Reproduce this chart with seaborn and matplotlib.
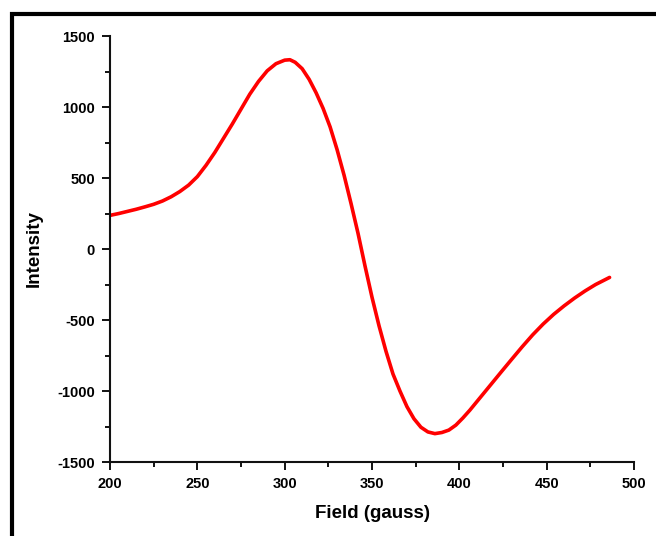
import matplotlib
matplotlib.use("Agg")
import matplotlib.pyplot as plt
from matplotlib.patches import Rectangle
from matplotlib.ticker import MultipleLocator
import seaborn as sns
import pandas as pd

# EPR derivative spectrum: magnetic field (gauss) vs. signal intensity
field = [200, 205, 210, 215, 220, 225, 230, 235, 240, 245, 250, 255, 260, 265,
         270, 275, 280, 285, 290, 295, 300, 303, 306, 310, 314, 318, 322, 326,
         330, 334, 338, 342, 346, 350, 354, 358, 362, 366, 370, 374, 378, 382,
         386, 390, 394, 398, 402, 406, 412, 418, 424, 430, 436, 442, 448, 454,
         460, 466, 472, 478, 486]
intensity = [237, 250, 265, 280, 297, 315, 338, 368, 405, 450, 510, 590, 680,
             780, 880, 985, 1090, 1180, 1255, 1305, 1330, 1333, 1315, 1270,
             1195, 1100, 990, 860, 700, 520, 320, 110, -120, -340, -540, -720,
             -880, -1000, -1110, -1195, -1255, -1288, -1300, -1292, -1275,
             -1240, -1190, -1135, -1045, -955, -865, -776, -688, -604, -528,
             -460, -400, -345, -295, -250, -200]

x_ticks = [200, 250, 300, 350, 400, 450, 500]
y_ticks = [-1500, -1000, -500, 0, 500, 1000, 1500]

df = pd.DataFrame({"Field (gauss)": field, "Intensity": intensity})

sns.set_style("ticks")
plt.rcParams["font.family"] = ["Liberation Sans", "DejaVu Sans"]
plt.rcParams["font.weight"] = "bold"

fig = plt.figure(figsize=(6.56, 5.36), dpi=100)
ax = fig.add_axes([0.1677, 0.138, 0.7988, 0.7948])

sns.lineplot(data=df, x="Field (gauss)", y="Intensity", ax=ax,
             color="#ff0000", linewidth=2.6, sort=False)

ax.set_xlim(200, 500)
ax.set_ylim(-1500, 1500)
ax.set_xticks(x_ticks)
ax.set_yticks(y_ticks)
ax.xaxis.set_minor_locator(MultipleLocator(25))
ax.yaxis.set_minor_locator(MultipleLocator(250))

ax.set_xticklabels([str(v) for v in x_ticks], fontsize=10.5, fontweight="bold")
ax.set_yticklabels([str(v) for v in y_ticks], fontsize=10.5, fontweight="bold")
ax.tick_params(which="major", direction="out", length=6, width=1.4, pad=5,
               color="#111111", labelcolor="black")
ax.tick_params(which="minor", direction="out", length=3.5, width=1.4,
               color="#111111")

for side in ("top", "right"):
    ax.spines[side].set_visible(False)
for side in ("left", "bottom"):
    ax.spines[side].set_linewidth(1.5)
    ax.spines[side].set_color("#111111")

ax.set_xlabel("Field (gauss)", fontsize=13.5, fontweight="bold", labelpad=10,
              color="black")
ax.set_ylabel("Intensity", fontsize=13.5, fontweight="bold", labelpad=10,
              color="black")

# heavy frame around the figure, running off the right and bottom edges
fig.patches.append(Rectangle((12 / 656, -0.2), 1.5, 1.2 - 13.5 / 536,
                             transform=fig.transFigure, fill=False,
                             edgecolor="black", linewidth=3, zorder=10))

fig.savefig("out.png", dpi=100)
